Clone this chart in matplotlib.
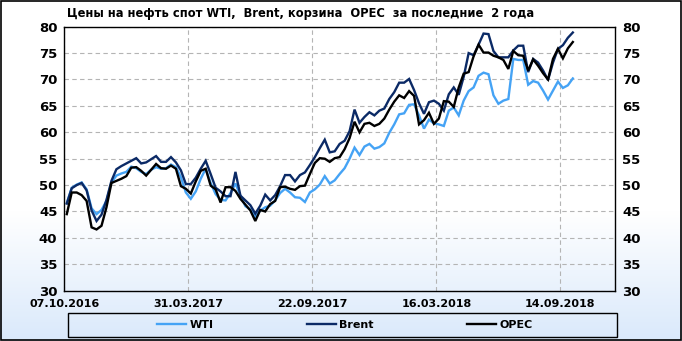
import numpy as np
import matplotlib
matplotlib.use("Agg")
import matplotlib.pyplot as plt
from matplotlib.colors import LinearSegmentedColormap

# ---- data (weekly, 07.10.2016 .. 21.09.2018) ----
wti = [46.6, 49.5, 50.1, 50.5, 49.2, 45.6, 44.5, 45.3, 47.0, 50.5,
       51.8, 52.2, 52.5, 53.5, 53.2, 52.5, 52.1, 52.9, 53.4, 53.1,
       53.2, 53.9, 53.4, 51.5, 48.6, 47.4, 48.8, 51.2, 53.1, 50.4,
       48.3, 47.2, 47.1, 48.5, 50.3, 48.0, 46.0, 45.4, 44.0, 45.2,
       45.8, 46.1, 47.1, 48.5, 49.3, 48.6, 47.7, 47.6, 46.8, 48.6,
       49.2, 50.1, 51.7, 50.3, 50.9, 52.1, 53.2, 55.0, 57.1, 55.7,
       57.3, 57.8, 56.9, 57.2, 57.9, 59.9, 61.5, 63.4, 63.6, 65.2,
       65.3, 63.2, 60.7, 62.4, 61.7, 61.5, 61.2, 64.1, 64.7, 63.2,
       66.0, 67.8, 68.5, 70.7, 71.3, 71.0, 67.0, 65.4, 66.0, 66.3,
       73.9, 73.7, 73.7, 69.0, 69.7, 69.4, 67.9, 66.2, 67.9, 69.6,
       68.4, 68.9, 70.2]
brent = [46.5, 49.4, 50.0, 50.4, 49.0, 45.2, 43.2, 44.4, 47.2, 50.8,
         53.0, 53.6, 54.1, 54.6, 55.1, 54.1, 54.3, 54.9, 55.5, 54.4,
         54.4, 55.3, 54.3, 52.8, 50.2, 50.2, 51.4, 53.1, 54.6, 52.1,
         49.5, 48.8, 47.9, 47.9, 52.5, 48.0, 47.1, 46.2, 44.6, 46.1,
         48.2, 47.1, 48.1, 49.8, 51.9, 51.9, 50.7, 51.9, 52.4, 53.8,
         55.3, 57.0, 58.6, 56.2, 56.4, 57.8, 58.4, 60.2, 64.3, 61.8,
         62.9, 63.8, 63.2, 64.1, 64.5, 66.3, 67.6, 69.4, 69.4, 70.1,
         68.0, 65.5, 63.5, 65.7, 66.0, 65.4, 64.1, 67.2, 68.5, 67.1,
         70.5, 75.0, 74.6, 76.6, 78.7, 78.6, 75.4, 74.2, 74.2, 74.2,
         75.5, 76.4, 76.4, 71.4, 73.9, 73.2, 71.7, 69.9, 73.2, 75.8,
         76.5, 77.9, 78.9]
opec = [44.5, 48.6, 48.6, 48.1, 47.0, 42.0, 41.6, 42.3, 45.8, 50.4,
        50.8, 51.2, 51.7, 53.3, 53.4, 52.7, 51.8, 52.9, 54.0, 53.2,
        53.1, 53.7, 53.1, 49.8, 49.3, 48.4, 50.7, 52.7, 53.1, 49.9,
        49.2, 46.7, 49.6, 49.6, 48.9, 47.4, 46.3, 45.2, 43.2, 45.3,
        45.0, 46.4, 47.0, 49.6, 49.7, 49.3, 49.1, 49.8, 49.9, 52.1,
        54.2, 55.1, 55.0, 54.4, 55.1, 55.3, 56.8, 58.9, 62.0, 60.0,
        61.6, 61.8, 61.2, 61.6, 62.6, 64.3, 65.8, 67.0, 66.5, 67.8,
        66.9, 61.5, 62.3, 63.7, 61.6, 62.6, 65.9, 65.8, 64.8, 68.5,
        71.1, 71.4, 74.4, 76.6, 75.1, 75.1, 74.5, 74.2, 73.7, 72.0,
        75.4, 74.6, 74.5, 71.7, 73.8, 72.6, 71.2, 70.0, 73.9, 75.8,
        74.0, 75.9, 77.1]
tick_labels = ["07.10.2016", "31.03.2017", "22.09.2017", "16.03.2018", "14.09.2018"]
tick_pos = [-0.5, 24.5, 49.5, 74.5, 99.5]
series_names = ["WTI", "Brent", "OPEC"]
colors = ["#45a3f5", "#0b2a66", "#000000"]

plt.rcParams['font.family'] = ['DejaVu Sans']

W, H = 682, 341
fig = plt.figure(figsize=(W / 100, H / 100), dpi=100)

# background gradient (white top -> light blue bottom)
bg = fig.add_axes([0, 0, 1, 1], zorder=-10)
t = np.linspace(0, 1, 200)
vals = np.clip((t - 0.62) / 0.38, 0, 1)
cmap = LinearSegmentedColormap.from_list("g", ["#ffffff", "#dae9fb"])
bg.imshow(vals[:, None], aspect="auto", cmap=cmap, extent=[0, 1, 0, 1], origin="upper")
bg.set_xlim(0, 1); bg.set_ylim(0, 1)
bg.axis("off")
# outer frame
bg.add_patch(plt.Rectangle((0.0015, 0.003), 0.997, 0.994, fill=False, edgecolor="black",
                           linewidth=1.2, transform=bg.transAxes))
# legend frame
bg.add_patch(plt.Rectangle((68 / W, 1 - 337 / H), (617 - 68) / W, 24 / H, fill=False,
                           edgecolor="black", linewidth=1.0, transform=bg.transAxes))

left, right = 64.3 / W, 615 / W
bottom, top = 1 - 290.7 / H, 1 - 26.7 / H
ax = fig.add_axes([left, bottom, right - left, top - bottom])
ax.set_facecolor("none")

x = np.arange(len(wti))
for name, ys, c in zip(series_names, [wti, brent, opec], colors):
    ax.plot(x, ys, color=c, linewidth=1.7, label=name, solid_joinstyle="miter")

ax.set_xlim(-0.5, 110.5)
ax.set_ylim(30, 80)
ax.set_yticks(np.arange(30, 81, 5))
ax.set_xticks(tick_pos)
ax.set_xticklabels(tick_labels, fontsize=8, fontweight="bold")
ax.tick_params(axis="x", length=0, pad=6)
ax.tick_params(axis="y", length=0, pad=5, labelsize=9.5, labelleft=True, labelright=True)
for lb in ax.get_yticklabels(which="both"):
    lb.set_fontweight("bold")
ax.grid(True, color="#b4b4b4", linestyle=(0, (4, 3)), linewidth=0.8)
for s in ax.spines.values():
    s.set_color("black")
    s.set_linewidth(1.0)

fig.text(67 / W, 1 - 14 / H, "Цены на нефть спот WTI,  Brent, корзина  OPEC  за последние  2 года",
         fontsize=8.3, fontweight="bold", ha="left", va="center")

# legend
leg = fig.legend(handles=ax.get_lines(), labels=series_names, loc="center",
                 bbox_to_anchor=(345 / W, 1 - 325 / H), ncol=3,
                 frameon=False, prop={"weight": "bold", "size": 8}, handlelength=2.6,
                 columnspacing=8.4, handletextpad=0.3)

fig.savefig("out.png", dpi=100)
